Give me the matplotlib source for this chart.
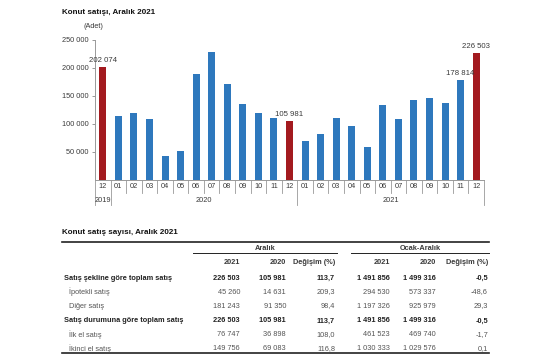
import matplotlib
matplotlib.use("Agg")
import matplotlib.pyplot as plt
from matplotlib.transforms import blended_transform_factory

plt.rcParams['font.family'] = ['Liberation Sans', 'DejaVu Sans']
plt.rcParams['font.size'] = 5.3

# monthly house sales, Dec 2019 .. Dec 2021
months = ['12', '01', '02', '03', '04', '05', '06', '07', '08', '09', '10', '11', '12',
          '01', '02', '03', '04', '05', '06', '07', '08', '09', '10', '11', '12']
sales = [202074, 113615, 118753, 108670, 42783, 50936, 190012, 229357, 170958, 135829,
         118917, 111566, 105981, 70071, 81809, 110531, 95745, 58723, 134661, 108372,
         142669, 146863, 137735, 178814, 226503]
years = ['2019', '2020', '2021']
year_counts = [1, 12, 12]
red_idx = [0, 12, 24]
labelled_idx = [0, 12, 23, 24]

# table
row_names = ['Satış şekline göre toplam satış', 'İpotekli satış', 'Diğer satış',
             'Satış durumuna göre toplam satış', 'İlk el satış', 'İkinci el satış']
row_bold = [True, False, False, True, False, False]
aralik_2021 = [226503, 45260, 181243, 226503, 76747, 149756]
aralik_2020 = [105981, 14631, 91350, 105981, 36898, 69083]
aralik_deg = [113.7, 209.3, 98.4, 113.7, 108.0, 116.8]
ocak_2021 = [1491856, 294530, 1197326, 1491856, 461523, 1030333]
ocak_2020 = [1499316, 573337, 925979, 1499316, 469740, 1029576]
ocak_deg = [-0.5, -48.6, 29.3, -0.5, -1.7, 0.1]

BLUE = '#2E78BD'
RED = '#A31A1F'
TXT = '#3a3a3a'


def fmt_int(v):
    return f'{v:,}'.replace(',', ' ')


def fmt_pct(v):
    return f'{v:.1f}'.replace('.', ',')


W, H = 555, 355
fig = plt.figure(figsize=(W / 100, H / 100), dpi=100)

# ---- bar chart ----
ax = fig.add_axes([95 / W, 1 - 180 / H, 389 / W, 140 / H])
x = list(range(len(sales)))
colors = [RED if i in red_idx else BLUE for i in x]
ax.bar(x, sales, width=0.45, color=colors)
ax.set_xlim(-0.5, len(sales) - 0.5)
ax.set_ylim(0, 250000)
ax.set_yticks([50000, 100000, 150000, 200000, 250000])
ax.set_yticklabels([fmt_int(v) for v in ax.get_yticks()])
ax.tick_params(axis='y', length=2.5, width=0.6, color='#888888', labelcolor=TXT, pad=2)
ax.set_xticks([])
for s in ['top', 'right']:
    ax.spines[s].set_visible(False)
for s in ['left', 'bottom']:
    ax.spines[s].set_color('#999999')
    ax.spines[s].set_linewidth(0.7)

for i in labelled_idx:
    ax.annotate(fmt_int(sales[i]), (i, sales[i]), xytext=(0, 2), textcoords='offset points',
                ha='center', va='bottom', color=TXT, fontsize=5.6)

# category axis with separators
tr = blended_transform_factory(ax.transData, ax.transAxes)
for i, m in enumerate(months):
    ax.text(i, -0.05, m, transform=tr, ha='center', va='center', color=TXT)
year_bounds = [-0.5]
for c in year_counts:
    year_bounds.append(year_bounds[-1] + c)
for i in range(len(months) + 1):
    b = i - 0.5
    low = -0.18 if b in year_bounds else -0.095
    ax.plot([b, b], [0, low], transform=tr, color='#999999', lw=0.6, clip_on=False)
for k, yr in enumerate(years):
    ax.text((year_bounds[k] + year_bounds[k + 1]) / 2, -0.15, yr, transform=tr,
            ha='center', va='center', color=TXT)

# ---- overlay in pixel coordinates for titles and the table ----
ov = fig.add_axes([0, 0, 1, 1])
ov.set_xlim(0, W)
ov.set_ylim(H, 0)
ov.axis('off')

ov.text(62, 12, 'Konut satışı, Aralık 2021', fontweight='bold', color='#111111',
        fontsize=5.8, va='center')
ov.text(83, 26, '(Adet)', color=TXT, va='center')

ov.text(62, 233, 'Konut satış sayısı, Aralık 2021', fontweight='bold', color='#111111',
        fontsize=5.8, va='center')
ov.plot([62, 489], [242, 242], color='#222222', lw=1.2)
ov.plot([62, 489], [353, 353], color='#222222', lw=1.2)
ov.plot([193, 337], [253, 253], color='#222222', lw=0.7)
ov.plot([351, 489], [253, 253], color='#222222', lw=0.7)
ov.text(265, 248, 'Aralık', fontweight='bold', color=TXT, ha='center', va='center')
ov.text(420, 248, 'Ocak-Aralık', fontweight='bold', color=TXT, ha='center', va='center')

col_x = [240, 286, 335, 390, 436, 488]
col_head = ['2021', '2020', 'Değişim (%)', '2021', '2020', 'Değişim (%)']
for cx, h in zip(col_x, col_head):
    ov.text(cx, 263, h, fontweight='bold', color=TXT, ha='right', va='center')

row_y = [278, 292, 306, 321, 335, 349]
for r, name in enumerate(row_names):
    bold = row_bold[r]
    fw = 'bold' if bold else 'normal'
    col = '#222222' if bold else '#555555'
    ov.text(64 if bold else 69, row_y[r], name, fontweight=fw, color=col, va='center')
    vals = [fmt_int(aralik_2021[r]), fmt_int(aralik_2020[r]), fmt_pct(aralik_deg[r]),
            fmt_int(ocak_2021[r]), fmt_int(ocak_2020[r]), fmt_pct(ocak_deg[r])]
    for cx, v in zip(col_x, vals):
        ov.text(cx, row_y[r], v, fontweight=fw, color=col, ha='right', va='center')

fig.savefig('out.png', dpi=100)
